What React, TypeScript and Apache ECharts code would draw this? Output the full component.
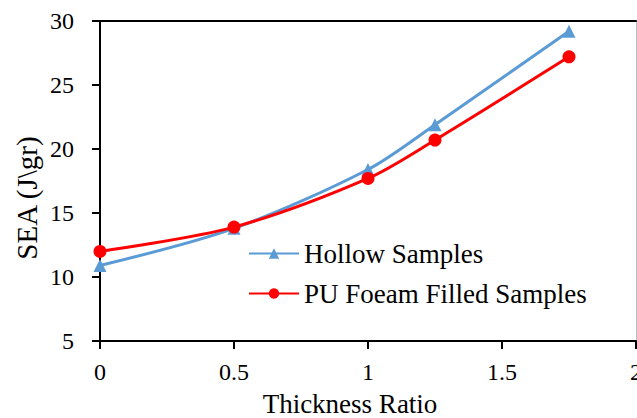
import React, { useEffect, useRef } from "react";
import * as echarts from "echarts";

const thicknessRatio = [0, 0.5, 1, 1.25, 1.75];
const hollowSEA = [10.9, 13.8, 18.4, 21.9, 29.2];
const foamSEA = [12.0, 13.9, 17.7, 20.7, 27.2];
const seriesNames = ["Hollow Samples", "PU Foeam Filled Samples"];
const xTitle = "Thickness Ratio";
const yTitle = "SEA (J\\gr)";

const FONT = "Liberation Serif, Times New Roman, Times, serif";

export default function App() {
  const ref = useRef<HTMLDivElement>(null);
  useEffect(() => {
    document.body.style.margin = "0";
    document.documentElement.style.overflow = "hidden";
    const chart = echarts.init(ref.current!, undefined, { renderer: "svg", width: 637, height: 418 });
    const pts = (ys: number[]) => thicknessRatio.map((x, i) => [x, ys[i]]);
    chart.setOption({
      animation: false,
      backgroundColor: "#ffffff",
      textStyle: { fontFamily: FONT },
      grid: { left: 100, right: 1, top: 21, bottom: 77, containLabel: false, outerBoundsMode: "none" },
      legend: {
        orient: "vertical",
        left: 248,
        top: 240,
        padding: 0,
        itemWidth: 50,
        itemHeight: 13,
        itemGap: 13,
        textStyle: { fontFamily: FONT, fontSize: 27, color: "#000", lineHeight: 27 },
        data: seriesNames,
      },
      xAxis: [
        {
          type: "value",
          min: 0,
          max: 2,
          interval: 0.5,
          axisLine: { show: true, onZero: false, lineStyle: { color: "#000", width: 2 } },
          axisTick: { show: true, inside: false, length: 8, lineStyle: { color: "#000", width: 2 } },
          axisLabel: { fontFamily: FONT, fontSize: 24, color: "#000", margin: 19 },
          splitLine: { show: false },
        },
        {
          type: "value",
          position: "top",
          min: 0,
          max: 2,
          interval: 0.5,
          axisLine: { show: true, onZero: false, lineStyle: { color: "#000", width: 2 } },
          axisTick: { show: false },
          axisLabel: { show: false },
          splitLine: { show: false },
        },
      ],
      yAxis: [
        {
          type: "value",
          min: 5,
          max: 30,
          interval: 5,
          axisLine: { show: true, onZero: false, lineStyle: { color: "#000", width: 2 } },
          axisTick: { show: true, inside: false, length: 8, lineStyle: { color: "#000", width: 2 } },
          axisLabel: { fontFamily: FONT, fontSize: 24, color: "#000", margin: 26 },
          splitLine: { show: false },
        },
        {
          type: "value",
          position: "right",
          min: 5,
          max: 30,
          interval: 5,
          axisLine: { show: true, onZero: false, lineStyle: { color: "#bfbfbf", width: 1 } },
          axisTick: { show: false },
          axisLabel: { show: false },
          splitLine: { show: false },
        },
      ],
      graphic: [
        {
          type: "text",
          x: 350,
          y: 404,
          style: {
            text: xTitle,
            fontFamily: FONT,
            fontSize: 27,
            fill: "#000",
            align: "center",
            verticalAlign: "middle",
          },
        },
        {
          type: "text",
          x: 27,
          y: 198,
          rotation: Math.PI / 2,
          style: {
            text: yTitle,
            fontFamily: FONT,
            fontSize: 29,
            fill: "#000",
            align: "center",
            verticalAlign: "middle",
          },
        },
      ],
      series: [
        {
          name: seriesNames[0],
          type: "line",
          data: pts(hollowSEA),
          smooth: 0.3,
          symbol: "triangle",
          symbolSize: 13,
          itemStyle: { color: "#5B9BD5" },
          lineStyle: { color: "#5B9BD5", width: 3 },
          z: 3,
        },
        {
          name: seriesNames[1],
          type: "line",
          data: pts(foamSEA),
          smooth: 0.3,
          symbol: "circle",
          symbolSize: 13,
          itemStyle: { color: "#FF0000" },
          lineStyle: { color: "#FF0000", width: 3 },
          z: 4,
        },
      ],
    });
    return () => chart.dispose();
  }, []);
  return (
    <div
      ref={ref}
      style={{ width: 637, height: 418, position: "absolute", left: 0, top: 0 }}
    />
  );
}
